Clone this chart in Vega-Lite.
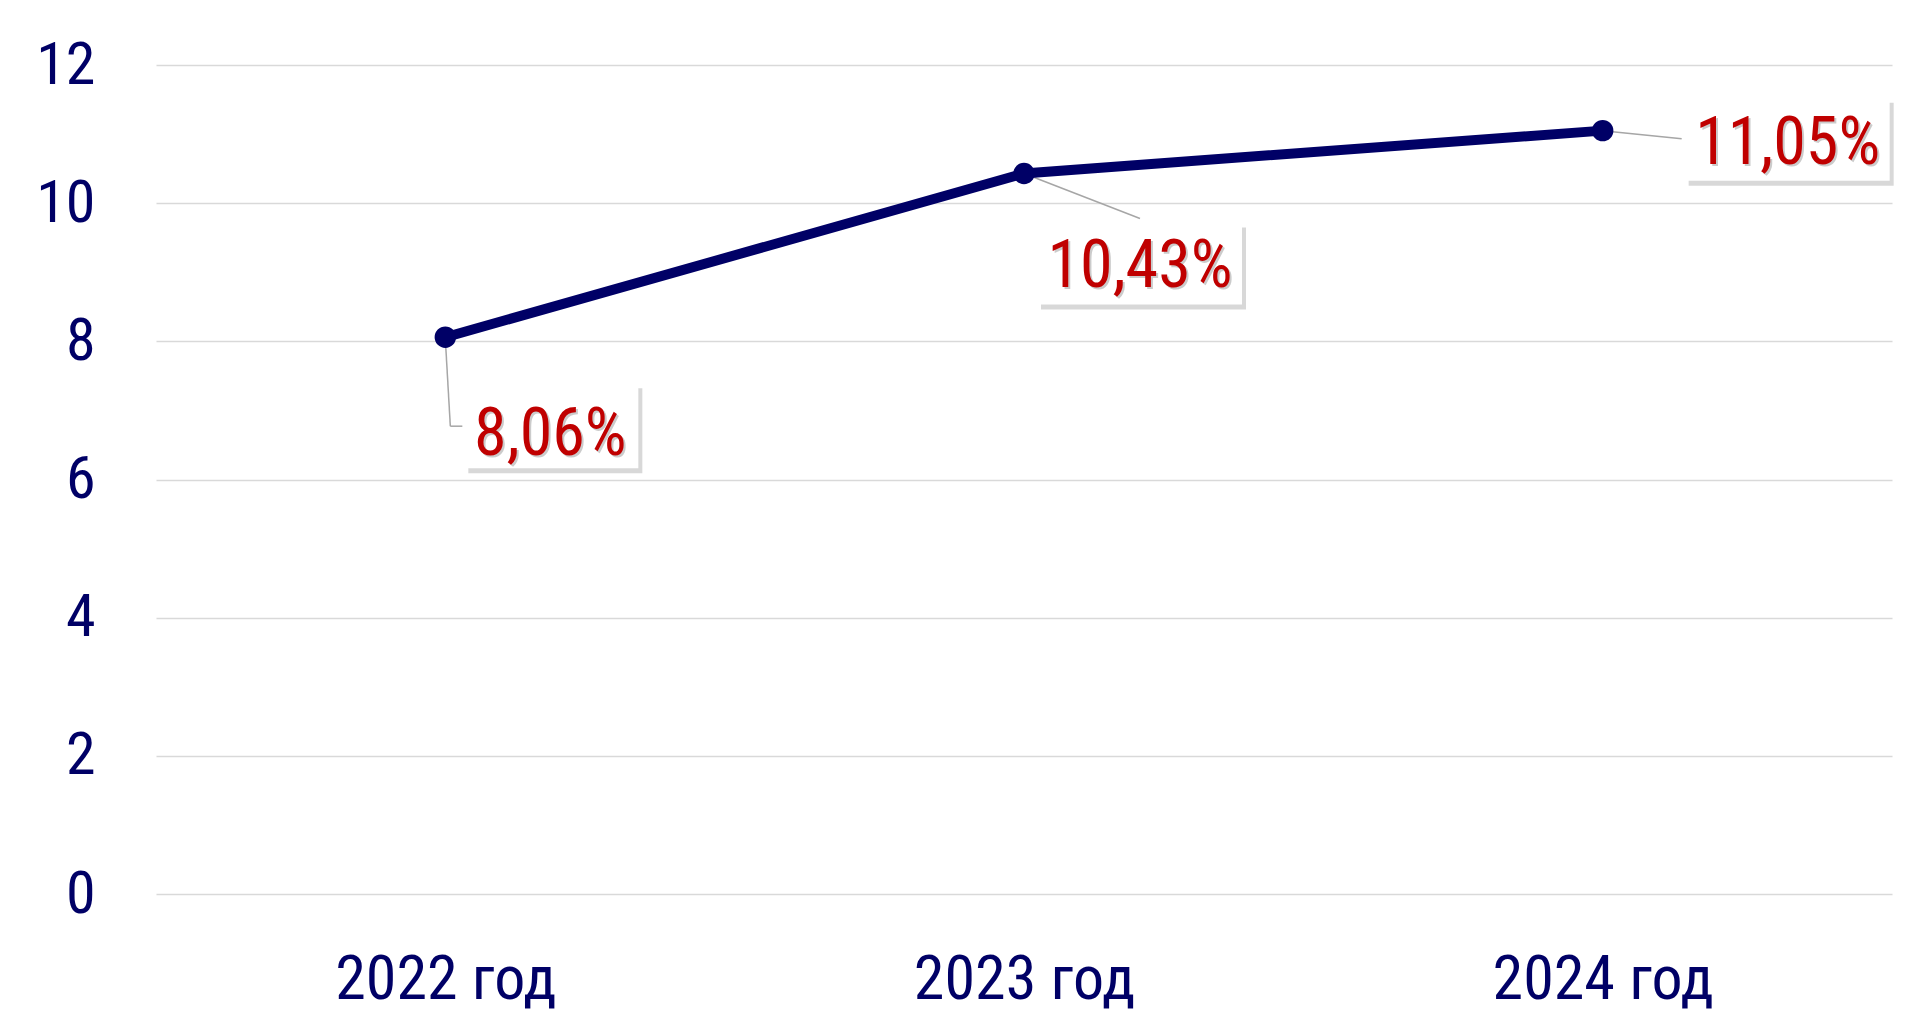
{
  "$schema": "https://vega.github.io/schema/vega-lite/v6.json",
  "width": 1736,
  "height": 829,
  "autosize": {"type": "none"},
  "padding": {"left": 156, "top": 65, "right": 25, "bottom": 134},
  "background": "#ffffff",
  "config": {
    "view": {"stroke": null},
    "font": "Roboto Condensed, DejaVu Sans Condensed, sans-serif"
  },
  "data": {
    "values": [
      {"year": "2022 год", "value": 8.06, "label": "8,06%"},
      {"year": "2023 год", "value": 10.43, "label": "10,43%"},
      {"year": "2024 год", "value": 11.05, "label": "11,05%"}
    ]
  },
  "encoding": {
    "x": {
      "field": "year", "type": "nominal", "sort": null,
      "scale": {"type": "point", "padding": 0.5},
      "axis": {
        "title": null, "domain": false, "ticks": false, "tickSize": 0, "grid": false,
        "labelAngle": 0, "labelLimit": 0, "labelFont": "Roboto Condensed, DejaVu Sans Condensed, sans-serif",
        "labelFontSize": 62, "labelFontWeight": "normal", "labelColor": "#000066", "labelBaseline": "alphabetic", "labelPadding": 104
      }
    },
    "y": {
      "field": "value", "type": "quantitative",
      "scale": {"domain": [0, 12], "nice": false, "zero": true},
      "axis": {
        "title": null, "domain": false, "ticks": false, "tickSize": 0,
        "values": [0, 2, 4, 6, 8, 10, 12],
        "gridColor": "#d9d9d9", "gridWidth": 1.5,
        "labelFont": "Roboto Condensed, DejaVu Sans Condensed, sans-serif",
        "labelFontSize": 60, "labelFontWeight": "normal", "labelColor": "#000066", "labelPadding": 61
      }
    }
  },
  "layer": [
    {
      "transform": [{"filter": "datum.year == '2022 год'"}],
      "mark": {"type": "rule", "color": "#a6a6a6", "strokeWidth": 1.5, "xOffset": 0, "yOffset": 2, "x2Offset": 5, "y2Offset": 89},
      "encoding": {"x2": {"field": "year"}, "y2": {"field": "value"}}
    },
    {
      "transform": [{"filter": "datum.year == '2022 год'"}],
      "mark": {"type": "rule", "color": "#a6a6a6", "strokeWidth": 1.5, "xOffset": 5, "yOffset": 89, "x2Offset": 17, "y2Offset": 89},
      "encoding": {"x2": {"field": "year"}, "y2": {"field": "value"}}
    },
    {
      "transform": [{"filter": "datum.year == '2023 год'"}],
      "mark": {"type": "rule", "color": "#a6a6a6", "strokeWidth": 1.5, "xOffset": 0, "yOffset": 0, "x2Offset": 116, "y2Offset": 45},
      "encoding": {"x2": {"field": "year"}, "y2": {"field": "value"}}
    },
    {
      "transform": [{"filter": "datum.year == '2024 год'"}],
      "mark": {"type": "rule", "color": "#a6a6a6", "strokeWidth": 1.5, "xOffset": 0, "yOffset": 0, "x2Offset": 79, "y2Offset": 8},
      "encoding": {"x2": {"field": "year"}, "y2": {"field": "value"}}
    },
    {
      "mark": {"type": "line", "color": "#000066", "strokeWidth": 10}
    },
    {
      "mark": {"type": "circle", "color": "#000066", "size": 460, "opacity": 1}
    },
    {
      "transform": [{"filter": "datum.year == '2022 год'"}],
      "mark": {"type": "rect", "fill": "#7f7f7f", "opacity": 0.3, "xOffset": 23, "x2Offset": 197, "yOffset": 51, "y2Offset": 136},
      "encoding": {"x2": {"field": "year"}, "y2": {"field": "value"}}
    },
    {
      "transform": [{"filter": "datum.year == '2023 год'"}],
      "mark": {"type": "rect", "fill": "#7f7f7f", "opacity": 0.3, "xOffset": 17, "x2Offset": 222, "yOffset": 54, "y2Offset": 136},
      "encoding": {"x2": {"field": "year"}, "y2": {"field": "value"}}
    },
    {
      "transform": [{"filter": "datum.year == '2024 год'"}],
      "mark": {"type": "rect", "fill": "#7f7f7f", "opacity": 0.3, "xOffset": 86, "x2Offset": 291, "yOffset": -28, "y2Offset": 55},
      "encoding": {"x2": {"field": "year"}, "y2": {"field": "value"}}
    },
    {
      "transform": [{"filter": "datum.year == '2022 год'"}],
      "mark": {"type": "rect", "fill": "#ffffff", "xOffset": 19, "x2Offset": 193, "yOffset": 46, "y2Offset": 131},
      "encoding": {"x2": {"field": "year"}, "y2": {"field": "value"}}
    },
    {
      "transform": [{"filter": "datum.year == '2023 год'"}],
      "mark": {"type": "rect", "fill": "#ffffff", "xOffset": 13, "x2Offset": 218, "yOffset": 49, "y2Offset": 131},
      "encoding": {"x2": {"field": "year"}, "y2": {"field": "value"}}
    },
    {
      "transform": [{"filter": "datum.year == '2024 год'"}],
      "mark": {"type": "rect", "fill": "#ffffff", "xOffset": 82, "x2Offset": 287, "yOffset": -33, "y2Offset": 50},
      "encoding": {"x2": {"field": "year"}, "y2": {"field": "value"}}
    },
    {
      "transform": [{"filter": "datum.year == '2022 год'"}],
      "mark": {"type": "text", "color": "#808080", "opacity": 0.4, "fontSize": 66, "align": "center", "baseline": "alphabetic", "dx": 107, "dy": 120},
      "encoding": {"text": {"field": "label"}}
    },
    {
      "transform": [{"filter": "datum.year == '2023 год'"}],
      "mark": {"type": "text", "color": "#808080", "opacity": 0.4, "fontSize": 66, "align": "center", "baseline": "alphabetic", "dx": 118, "dy": 116},
      "encoding": {"text": {"field": "label"}}
    },
    {
      "transform": [{"filter": "datum.year == '2024 год'"}],
      "mark": {"type": "text", "color": "#808080", "opacity": 0.4, "fontSize": 66, "align": "center", "baseline": "alphabetic", "dx": 187, "dy": 35},
      "encoding": {"text": {"field": "label"}}
    },
    {
      "transform": [{"filter": "datum.year == '2022 год'"}],
      "mark": {"type": "text", "color": "#c00000", "fontSize": 66, "align": "center", "baseline": "alphabetic", "dx": 105, "dy": 118},
      "encoding": {"text": {"field": "label"}}
    },
    {
      "transform": [{"filter": "datum.year == '2023 год'"}],
      "mark": {"type": "text", "color": "#c00000", "fontSize": 66, "align": "center", "baseline": "alphabetic", "dx": 116, "dy": 114},
      "encoding": {"text": {"field": "label"}}
    },
    {
      "transform": [{"filter": "datum.year == '2024 год'"}],
      "mark": {"type": "text", "color": "#c00000", "fontSize": 66, "align": "center", "baseline": "alphabetic", "dx": 185, "dy": 33},
      "encoding": {"text": {"field": "label"}}
    }
  ]
}
